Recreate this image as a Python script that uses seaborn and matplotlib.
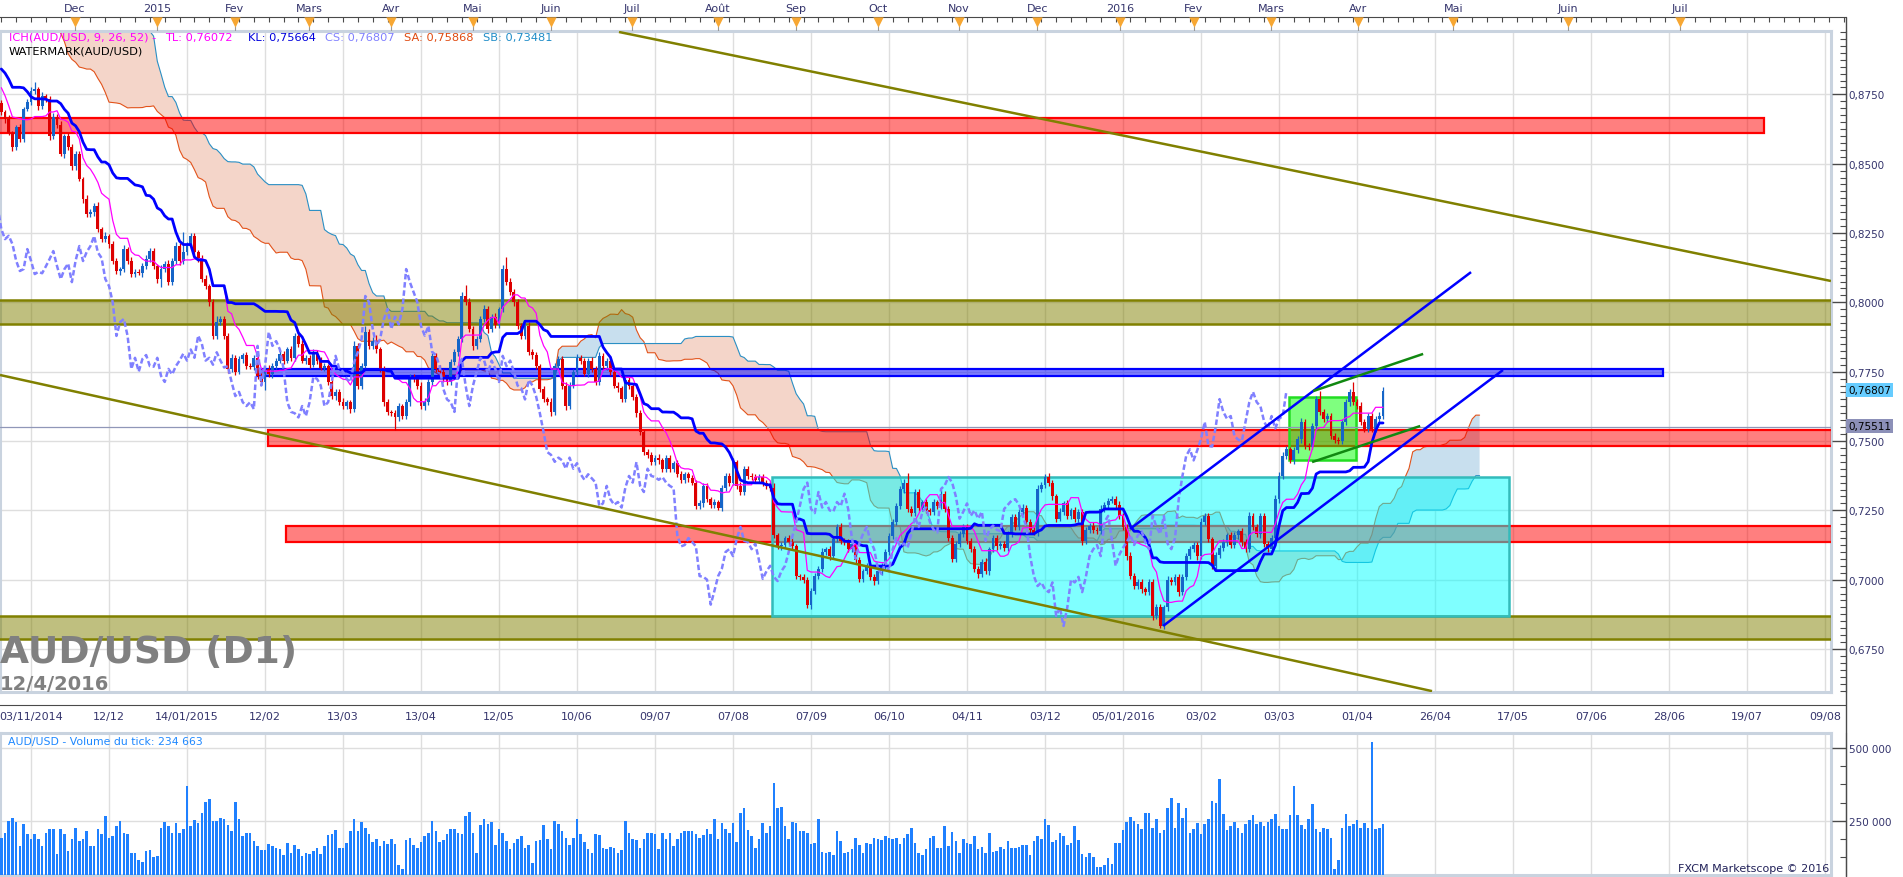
import numpy as np
import pandas as pd
import seaborn as sns
import matplotlib.pyplot as plt
from matplotlib.patches import Rectangle
from matplotlib.lines import Line2D
from matplotlib.ticker import MultipleLocator, FuncFormatter

sns.set_style('white')
plt.rcParams['font.family'] = ['DejaVu Sans']

# ---------------- data ----------------
# daily closes before the first visible bar (only feed the Ichimoku cloud)
pre_close = [
    0.9380, 0.9395, 0.9410, 0.9375, 0.9360, 0.9385, 0.9400, 0.9420, 0.9390, 0.9370,
    0.9350, 0.9365, 0.9380, 0.9405, 0.9395, 0.9370, 0.9340, 0.9320, 0.9300, 0.9290,
    0.9275, 0.9300, 0.9310, 0.9290, 0.9320, 0.9335, 0.9310, 0.9300, 0.9280, 0.9300,
    0.9320, 0.9305, 0.9290, 0.9315, 0.9330, 0.9345, 0.9330, 0.9310, 0.9325, 0.9350,
    0.9380, 0.9400, 0.9390, 0.9360, 0.9200, 0.9110, 0.9020, 0.8960, 0.8940, 0.8970,
    0.8960, 0.8985, 0.8950, 0.8930, 0.8960, 0.8985, 0.8970, 0.8940, 0.8960, 0.8980,
    0.8990, 0.8960, 0.8920, 0.8900, 0.8870, 0.8890, 0.8910, 0.8880, 0.8860, 0.8870,
    0.8890, 0.8860, 0.8830, 0.8800, 0.8780, 0.8750, 0.8770, 0.8740, 0.8760, 0.8720,
]

# daily closes, 22/10/2014 -> 12/04/2016
close = [
    0.8686, 0.8660, 0.8611, 0.8560, 0.8632, 0.8589, 0.8697, 0.8722, 0.8762, 0.8769,
    0.8708, 0.8744, 0.8733, 0.8600, 0.8670, 0.8640, 0.8535, 0.8600, 0.8560, 0.8490,
    0.8535, 0.8445, 0.8373, 0.8318, 0.8326, 0.8347, 0.8264, 0.8228, 0.8240, 0.8210,
    0.8150, 0.8113, 0.8120, 0.8192, 0.8150, 0.8102, 0.8110, 0.8105, 0.8130, 0.8156,
    0.8185, 0.8131, 0.8084, 0.8120, 0.8140, 0.8073, 0.8150, 0.8203, 0.8149, 0.8182,
    0.8203, 0.8239, 0.8180, 0.8160, 0.8084, 0.8059, 0.8000, 0.7879, 0.7929, 0.7940,
    0.7879, 0.7760, 0.7800, 0.7750, 0.7796, 0.7810, 0.7770, 0.7768, 0.7800, 0.7735,
    0.7713, 0.7760, 0.7740, 0.7770, 0.7790, 0.7815, 0.7790, 0.7830, 0.7800, 0.7880,
    0.7850, 0.7790, 0.7800, 0.7775, 0.7820, 0.7790, 0.7765, 0.7770, 0.7713, 0.7662,
    0.7677, 0.7640, 0.7626, 0.7640, 0.7615, 0.7843, 0.7700, 0.7770, 0.7893, 0.7843,
    0.7860, 0.7830, 0.7760, 0.7640, 0.7605, 0.7600, 0.7585, 0.7626, 0.7590, 0.7640,
    0.7731, 0.7724, 0.7700, 0.7626, 0.7640, 0.7713, 0.7807, 0.7760, 0.7750, 0.7724,
    0.7713, 0.7784, 0.7821, 0.7868, 0.8023, 0.8001, 0.7904, 0.7843, 0.7868, 0.7940,
    0.7976, 0.7904, 0.7948, 0.7920, 0.7976, 0.8120, 0.8073, 0.8037, 0.8001, 0.7915,
    0.7880, 0.7915, 0.7821, 0.7810, 0.7770, 0.7688, 0.7650, 0.7640, 0.7605, 0.7770,
    0.7796, 0.7700, 0.7626, 0.7700, 0.7750, 0.7800, 0.7790, 0.7743, 0.7790, 0.7760,
    0.7713, 0.7807, 0.7770, 0.7790, 0.7750, 0.7700, 0.7690, 0.7650, 0.7720, 0.7700,
    0.7660, 0.7600, 0.7532, 0.7460, 0.7450, 0.7425, 0.7440, 0.7430, 0.7400, 0.7440,
    0.7400, 0.7420, 0.7380, 0.7360, 0.7380, 0.7365, 0.7350, 0.7266, 0.7275, 0.7338,
    0.7290, 0.7270, 0.7280, 0.7260, 0.7331, 0.7374, 0.7350, 0.7424, 0.7338, 0.7316,
    0.7400, 0.7374, 0.7370, 0.7360, 0.7370, 0.7350, 0.7338, 0.7330, 0.7160, 0.7120,
    0.7125, 0.7150, 0.7136, 0.7120, 0.7013, 0.7010, 0.7000, 0.6910, 0.6960, 0.7013,
    0.7040, 0.7100, 0.7110, 0.7085, 0.7147, 0.7190, 0.7140, 0.7136, 0.7110, 0.7130,
    0.7070, 0.7003, 0.7030, 0.7050, 0.7010, 0.6995, 0.7030, 0.7050, 0.7100, 0.7157,
    0.7208, 0.7266, 0.7327, 0.7350, 0.7255, 0.7240, 0.7316, 0.7260, 0.7280, 0.7250,
    0.7245, 0.7280, 0.7265, 0.7310, 0.7255, 0.7150, 0.7075, 0.7130, 0.7165, 0.7190,
    0.7140, 0.7110, 0.7040, 0.7020, 0.7065, 0.7030, 0.7110, 0.7150, 0.7120, 0.7130,
    0.7115, 0.7165, 0.7225, 0.7190, 0.7245, 0.7260, 0.7208, 0.7180, 0.7170, 0.7327,
    0.7340, 0.7370, 0.7350, 0.7300, 0.7220, 0.7245, 0.7275, 0.7230, 0.7250, 0.7220,
    0.7245, 0.7140, 0.7180, 0.7195, 0.7180, 0.7175, 0.7255, 0.7270, 0.7285, 0.7290,
    0.7270, 0.7230, 0.7190, 0.7085, 0.7013, 0.6977, 0.6990, 0.6965, 0.6955, 0.6990,
    0.6869, 0.6900, 0.6833, 0.6900, 0.7000, 0.6990, 0.7010, 0.6955, 0.7010, 0.7085,
    0.7110, 0.7125, 0.7085, 0.7208, 0.7230, 0.7145, 0.7050, 0.7090, 0.7115, 0.7135,
    0.7160, 0.7125, 0.7160, 0.7175, 0.7135, 0.7110, 0.7230, 0.7190, 0.7165, 0.7230,
    0.7130, 0.7110, 0.7150, 0.7290, 0.7374, 0.7446, 0.7470, 0.7430, 0.7467, 0.7507,
    0.7569, 0.7482, 0.7480, 0.7555, 0.7651, 0.7605, 0.7580, 0.7590, 0.7518, 0.7505,
    0.7500, 0.7569, 0.7640, 0.7677, 0.7640, 0.7625, 0.7570, 0.7544, 0.7590, 0.7545,
    0.7580, 0.7590, 0.7681,
]

# wick lengths in pips (pre-history first, then visible bars)
wick_hi = [
    12, 15, 10, 18, 9, 14, 11, 16, 13, 10, 15, 12, 9, 17, 11, 14, 10, 13, 16, 12,
    11, 14, 9, 15, 12, 10, 16, 13, 11, 14, 12, 9, 15, 11, 13, 10, 14, 12, 16, 11,
    30, 14, 12, 20, 15, 13, 17, 11, 14, 16, 12, 15, 10, 13, 17, 12, 14, 11, 15, 13,
    16, 12, 14, 18, 11, 15, 13, 10, 16, 12, 14, 17, 11, 13, 15, 12, 16, 10, 14, 12,
    10, 8, 14, 6, 9, 12, 7, 11, 15, 26, 9, 13, 8, 10, 12, 9, 14, 8, 11, 10,
    9, 12, 8, 14, 10, 11, 16, 9, 12, 8, 13, 10, 9, 15, 8, 12, 10, 9, 11, 14,
    10, 12, 8, 13, 9, 11, 10, 14, 12, 70, 16, 12, 10, 9, 11, 13, 8, 12, 22, 10,
    11, 9, 14, 10, 12, 8, 11, 13, 9, 10, 12, 9, 14, 11, 8, 12, 10, 9, 13, 11,
    10, 14, 9, 11, 12, 8, 13, 10, 9, 12, 11, 10, 14, 9, 8, 18, 12, 10, 20, 11,
    14, 22, 10, 9, 12, 8, 11, 10, 9, 13, 12, 10, 8, 11, 14, 9, 12, 10, 13, 9,
    10, 12, 9, 11, 14, 40, 16, 10, 12, 9, 13, 11, 10, 12, 9, 15, 43, 14, 10, 12,
    9, 11, 13, 10, 12, 8, 11, 9, 14, 10, 12, 9, 11, 13, 10, 12, 9, 11, 10, 12,
    9, 13, 10, 11, 12, 9, 14, 10, 11, 12, 9, 10, 13, 8, 11, 10, 9, 12, 10, 11,
    10, 9, 12, 11, 8, 10, 13, 9, 11, 12, 10, 9, 11, 8, 12, 10, 11, 13, 9, 14,
    11, 10, 9, 12, 10, 11, 9, 13, 20, 10, 12, 9, 11, 14, 10, 9, 12, 10, 11, 12,
    10, 13, 9, 11, 12, 10, 14, 12, 9, 11, 10, 12, 9, 11, 10, 12, 9, 10, 12, 11,
    10, 12, 11, 13, 35, 12, 10, 11, 9, 12, 10, 11, 9, 13, 10, 12, 11, 9, 10, 12,
    11, 9, 12, 10, 11, 13, 9, 10, 12, 11, 10, 9, 12, 10, 11, 12, 9, 10, 11, 14,
    12, 10, 14, 11, 9, 12, 10, 11, 9, 12, 10, 11, 9, 10, 12, 11, 13, 10, 9, 11,
    10, 12, 11, 9, 13, 10, 12, 11, 10, 12, 14, 11, 12, 10, 13, 11, 9, 12, 10, 11,
    12, 10, 11, 13, 9, 12, 10, 11, 9, 12, 10, 11, 12, 9, 11, 10, 13, 11, 10, 12,
    11, 10, 12, 14, 16, 13, 12, 10, 11, 12, 14, 10, 12, 11, 13, 28, 12, 11, 10, 12,
    11, 12, 13, 10, 35, 12, 14, 11, 12, 10, 11, 13, 14,
]
wick_lo = [
    13, 10, 16, 12, 14, 11, 9, 15, 12, 13, 10, 14, 16, 11, 12, 15, 13, 10, 14, 12,
    15, 11, 13, 12, 10, 16, 14, 12, 11, 13, 15, 10, 12, 14, 11, 13, 16, 12, 10, 14,
    12, 18, 20, 16, 14, 12, 15, 13, 11, 14, 12, 16, 13, 11, 15, 12, 14, 13, 16, 12,
    14, 17, 13, 15, 12, 14, 11, 16, 13, 12, 15, 11, 14, 12, 13, 16, 12, 14, 11, 13,
    9, 12, 8, 15, 10, 9, 11, 8, 12, 10, 14, 9, 11, 13, 10, 12, 9, 14, 10, 12,
    11, 9, 13, 10, 12, 14, 10, 11, 9, 13, 12, 10, 14, 9, 11, 10, 12, 8, 13, 10,
    12, 10, 14, 30, 9, 12, 10, 11, 13, 9, 12, 10, 11, 14, 12, 10, 13, 11, 10, 12,
    11, 13, 10, 12, 9, 14, 11, 10, 12, 13, 11, 30, 10, 12, 11, 9, 13, 10, 12, 11,
    12, 10, 11, 13, 9, 12, 10, 14, 11, 12, 13, 10, 12, 11, 14, 10, 12, 11, 9, 13,
    10, 12, 11, 14, 12, 10, 45, 12, 11, 10, 13, 11, 12, 10, 14, 11, 10, 12, 11, 13,
    12, 11, 10, 13, 12, 10, 11, 14, 12, 10, 11, 13, 10, 12, 11, 10, 12, 11, 13, 10,
    11, 12, 10, 13, 11, 12, 10, 11, 14, 12, 10, 11, 13, 12, 10, 11, 12, 10, 13, 11,
    12, 10, 11, 13, 12, 10, 14, 11, 10, 12, 11, 13, 12, 10, 11, 12, 10, 13, 11, 10,
    12, 11, 10, 13, 11, 12, 10, 11, 12, 13, 10, 11, 12, 10, 13, 11, 12, 10, 11, 12,
    10, 11, 12, 10, 13, 11, 10, 12, 11, 10, 13, 12, 10, 11, 12, 10, 11, 13, 16, 12,
    11, 12, 10, 13, 11, 12, 10, 11, 12, 10, 13, 11, 12, 10, 11, 13, 10, 12, 11, 10,
    12, 11, 10, 13, 11, 12, 10, 11, 12, 10, 13, 11, 12, 10, 11, 12, 13, 10, 11, 12,
    10, 11, 12, 13, 10, 11, 12, 10, 13, 11, 12, 10, 11, 12, 10, 13, 11, 12, 10, 11,
    12, 10, 11, 13, 12, 10, 11, 12, 10, 13, 11, 14, 10, 12, 11, 10, 12, 11, 13, 10,
    11, 12, 10, 13, 11, 12, 10, 14, 12, 11, 13, 12, 6, 10, 12, 11, 10, 13, 11, 12,
    10, 11, 13, 12, 10, 11, 12, 10, 13, 11, 12, 10, 11, 13, 12, 10, 11, 12, 10, 13,
    11, 12, 10, 11, 13, 12, 10, 11, 12, 10, 13, 11, 12, 10, 11, 12, 10, 13, 11, 12,
    10, 11, 12, 13, 10, 11, 12, 10, 13, 11, 12, 10, 11,
]

# tick volume, thousands
volume_k = [
    193, 210, 250, 261, 247, 165, 239, 205, 188, 205, 188, 165, 210, 222, 224, 136, 222, 205, 148, 188,
    227, 182, 188, 216, 165, 165, 224, 205, 267, 193, 199, 233, 250, 210, 205, 142, 142, 117, 108, 148,
    150, 128, 131, 227, 247, 233, 210, 242, 210, 224, 369, 233, 252, 242, 278, 315, 324, 250, 250, 261,
    256, 235, 214, 315, 256, 197, 210, 210, 182, 165, 151, 151, 170, 165, 159, 153, 133, 176, 142, 167,
    153, 131, 142, 136, 148, 159, 136, 165, 201, 205, 219, 159, 159, 176, 216, 258, 215, 247, 227, 205,
    178, 188, 165, 182, 170, 188, 170, 99, 87, 185, 193, 167, 159, 178, 199, 208, 250, 216, 178, 185,
    205, 222, 222, 210, 205, 267, 281, 210, 142, 235, 256, 239, 247, 168, 224, 210, 182, 153, 174, 188,
    199, 156, 167, 106, 182, 185, 235, 188, 153, 250, 239, 216, 193, 167, 193, 258, 205, 178, 153, 142,
    205, 201, 159, 153, 162, 158, 142, 151, 250, 210, 188, 185, 159, 188, 210, 210, 205, 153, 210, 188,
    210, 165, 188, 210, 216, 214, 214, 205,
    193, 201, 222, 205, 258, 188, 244, 222, 210, 244, 178, 278, 295, 219, 197, 156, 188, 244, 210, 233,
    381, 295, 299, 231, 188, 248, 242, 214, 216, 210, 170, 174, 256, 145, 139, 145, 133, 216, 182, 142,
    144, 153, 190, 168, 140, 173, 170, 190, 188, 185, 199, 191, 188, 193, 170, 190, 205, 227, 174, 140,
    133, 153, 190, 199, 156, 159, 231, 165, 212, 182, 142, 188, 176, 170, 197, 153, 162, 142, 210, 144,
    148, 162, 153, 182, 159, 156, 162, 169, 169, 133, 182, 199, 188, 258, 235, 178, 185, 210, 199, 167,
    174, 233, 185, 136, 125, 139, 128, 91, 94, 99, 122, 102, 176, 176, 219, 247, 265, 250, 239, 224,
    278, 278, 227, 256, 208, 219, 295, 330, 227, 313, 261, 295, 210, 222, 242, 205, 239, 258, 318, 313,
    394, 273, 219, 233, 247, 227, 210, 239, 253, 269, 239, 247, 231, 247, 256, 273, 233, 224, 222, 269,
    369, 269, 235, 224, 258, 307, 222, 212, 227, 224, 193, 87, 117, 227, 273, 231, 239, 252, 227, 242,
    227, 519, 224, 227, 239,
]

month_labels = ['Dec', '2015', 'Fev', 'Mars', 'Avr', 'Mai', 'Juin', 'Juil', 'Août', 'Sep',
                'Oct', 'Nov', 'Dec', '2016', 'Fev', 'Mars', 'Avr', 'Mai', 'Juin', 'Juil']
month_bars = [19.8, 41.9, 62.9, 82.8, 104.9, 127.0, 148.0, 169.8, 193.0, 214.0,
              236.1, 257.9, 278.9, 301.2, 321.0, 341.9, 365.3, 390.9, 421.8, 452.0]
date_labels = ['03/11/2014', '12/12', '14/01/2015', '12/02', '13/03', '13/04', '12/05', '10/06',
               '09/07', '07/08', '07/09', '06/10', '04/11', '03/12', '05/01/2016', '03/02',
               '03/03', '01/04', '26/04', '17/05', '07/06', '28/06', '19/07', '09/08']

# drawn zones: (first bar, last bar, low price, high price)
red_zones = [(-1, 474.6, 0.8611, 0.8665), (71.8, 500, 0.7482, 0.7540), (76.7, 500, 0.7136, 0.7193)]
olive_zones = [(-1, 500, 0.7922, 0.8008), (-1, 500, 0.6786, 0.6869)]
blue_zones = [(68.8, 447.4, 0.7736, 0.7760)]
cyan_boxes = [(207.5, 405.9, 0.6869, 0.7370)]
green_boxes = [(346.7, 364.7, 0.7431, 0.7659)]
# drawn trend lines: ((bar, price), (bar, price))
olive_lines = [((166.3, 0.8975), (492.6, 0.8077)), ((-0.35, 0.7738), (385.2, 0.6598))]
blue_lines = [((303.9, 0.7183), (395.7, 0.8109)), ((312.8, 0.6833), (404.3, 0.7756))]
green_lines = [((353.2, 0.7680), (382.8, 0.7814)), ((352.9, 0.7424), (382.0, 0.7554))]
last_price = 0.75511

# ---------------- candles + Ichimoku ----------------
n_pre = len(pre_close)
all_close = np.array(pre_close + close)
all_open = np.r_[all_close[0], all_close[:-1]]
df = pd.DataFrame({
    'bar': np.arange(len(all_close)) - n_pre,
    'open': all_open,
    'close': all_close,
    'high': np.maximum(all_open, all_close) + np.array(wick_hi) / 10000,
    'low': np.minimum(all_open, all_close) - np.array(wick_lo) / 10000,
})
df['tenkan'] = (df.high.rolling(9).max() + df.low.rolling(9).min()) / 2
df['kijun'] = (df.high.rolling(26).max() + df.low.rolling(26).min()) / 2
df['sa'] = (df.tenkan + df.kijun) / 2
df['sb'] = (df.high.rolling(52).max() + df.low.rolling(52).min()) / 2
vis = df[df.bar >= 0].reset_index(drop=True)

# ---------------- layout in pixels ----------------
W, H = 1903, 878
BAR_PX = 78 / 21


def frac_box(x0, y0, x1, y1):
    return [x0 / W, 1 - y1 / H, (x1 - x0) / W, (y1 - y0) / H]


def bar_at(px):
    return (px - 1.3) / BAR_PX


def price_at(py):
    return 0.75 + (442 - py) / 2773


TXT = '#34346C'
AXC = '#4A4A4A'
FRAME = '#C9D3DF'
date_bars = [8 + 21 * k for k in range(len(date_labels))]

fig = plt.figure(figsize=(W / 100, H / 100), dpi=100)

ax = fig.add_axes(frac_box(0, 32, 1831, 693))
ax.set_xlim(bar_at(0), bar_at(1831))
ax.set_ylim(price_at(693), price_at(32))
ax.set_xticks(date_bars)
ax.set_yticks(np.arange(0.675, 0.90, 0.025))
ax.grid(True, color='#DEDEDE', lw=1)
ax.tick_params(length=0, labelbottom=False, labelleft=False)
for s in ax.spines.values():
    s.set_color(FRAME)
    s.set_linewidth(2.2)

# cloud
cloud = df[df.bar + 26 >= -1]
cx = cloud.bar + 26
ax.fill_between(cx, cloud.sa, cloud.sb, where=cloud.sa <= cloud.sb, interpolate=True,
                facecolor='#F4D5C9', lw=0, zorder=1)
ax.fill_between(cx, cloud.sa, cloud.sb, where=cloud.sa > cloud.sb, interpolate=True,
                facecolor='#C8DFEE', lw=0, zorder=1)
sns.lineplot(x=cx, y=cloud.sa, ax=ax, color='#E2531B', lw=0.8, zorder=2)
sns.lineplot(x=cx, y=cloud.sb, ax=ax, color='#2A8FC4', lw=0.8, zorder=2)

# zones and boxes
for x0, x1, lo, hi in red_zones:
    ax.add_patch(Rectangle((x0, lo), x1 - x0, hi - lo, fc=(1, 0, 0, 0.5), ec='#FF0000', lw=1.6, zorder=3))
for x0, x1, lo, hi in olive_zones:
    ax.add_patch(Rectangle((x0, lo), x1 - x0, hi - lo, fc=(0.5, 0.5, 0, 0.5), ec='#808000', lw=1.8, zorder=3))
for x0, x1, lo, hi in blue_zones:
    ax.add_patch(Rectangle((x0, lo), x1 - x0, hi - lo, fc=(0, 0, 1, 0.5), ec='#0000FF', lw=1.6, zorder=3))
for x0, x1, lo, hi in cyan_boxes:
    ax.add_patch(Rectangle((x0, lo), x1 - x0, hi - lo, fc=(0, 1, 1, 0.5), ec='#33BBBB', lw=1.8, zorder=3))
for x0, x1, lo, hi in green_boxes:
    ax.add_patch(Rectangle((x0, lo), x1 - x0, hi - lo, fc=(0, 1, 0, 0.5), ec='#22DD22', lw=1.8, zorder=3))

ax.axhline(last_price, color='#9097B8', lw=0.9, zorder=3)

# candles
up = vis.close >= vis.open
cols = np.where(up, '#1565C8', '#DD0000')
ax.vlines(vis.bar, vis.low, vis.high, colors=cols, lw=0.9, zorder=4)
ax.bar(vis.bar, np.maximum((vis.close - vis.open).abs(), 0.0003),
       bottom=np.minimum(vis.open, vis.close), width=0.78, color=cols, lw=0, zorder=4)

# Ichimoku lines
line_part = vis[vis.tenkan.notna()]
sns.lineplot(x=line_part.bar, y=line_part.tenkan, ax=ax, color='#FF00FF', lw=0.9, zorder=5)
sns.lineplot(x=line_part.bar, y=line_part.kijun, ax=ax, color='#0000FF', lw=2.0, zorder=5)
chikou = vis[vis.bar - 26 >= -1]
ax.plot(chikou.bar - 26, chikou.close, color='#8080FF', lw=1.8, dashes=(2.2, 1.1), zorder=5)

# trend lines
for group, col in [(olive_lines, '#808000'), (blue_lines, '#0000FF'), (green_lines, '#118811')]:
    for (xa, ya), (xb, yb) in group:
        ax.plot([xa, xb], [ya, yb], color=col, lw=1.8, zorder=6, solid_capstyle='butt')
ax.set_xlabel('')
ax.set_ylabel('')

# right price axis
axr = fig.add_axes(frac_box(1831, 32, 1846, 693))
axr.set_ylim(ax.get_ylim())
axr.patch.set_visible(False)
for s in ['left', 'top', 'bottom']:
    axr.spines[s].set_visible(False)
axr.spines['right'].set_color(AXC)
axr.set_xticks([])
axr.yaxis.tick_right()
axr.yaxis.set_major_locator(MultipleLocator(0.025))
axr.yaxis.set_minor_locator(MultipleLocator(0.0025))
axr.yaxis.set_major_formatter(FuncFormatter(lambda v, _: f'{v:.4f}'.replace('.', ',')))
axr.tick_params(axis='y', which='major', direction='in', length=10, width=1, color=AXC,
                labelsize=7.5, labelcolor=TXT, pad=2)
axr.tick_params(axis='y', which='minor', direction='in', length=4.3, width=0.8, color=AXC)

# top month bar
axt = fig.add_axes(frac_box(0, 18, 1845, 32))
axt.set_xlim(bar_at(0), bar_at(1845))
axt.set_ylim(0, 1)
axt.patch.set_visible(False)
for s in ['left', 'right', 'bottom']:
    axt.spines[s].set_visible(False)
axt.spines['top'].set_color(AXC)
axt.set_yticks([])
axt.xaxis.tick_top()
axt.set_xticks(month_bars)
axt.set_xticklabels(month_labels)
axt.xaxis.set_minor_locator(MultipleLocator(4))
axt.tick_params(axis='x', which='major', length=0, pad=3, labelsize=8, labelcolor=TXT)
axt.tick_params(axis='x', which='minor', direction='in', length=3.5, width=0.8, color=AXC)
axt.vlines(month_bars, 0, 0.5, color='#999999', lw=0.8)
axt.scatter(month_bars, [0.62] * len(month_bars), marker='v', s=55, color='#F7A733',
            lw=0, zorder=3, clip_on=False)

# bottom date bar
axb = fig.add_axes(frac_box(0, 693, 1845, 706))
axb.set_xlim(bar_at(0), bar_at(1845))
axb.patch.set_visible(False)
for s in ['left', 'right', 'top']:
    axb.spines[s].set_visible(False)
axb.spines['bottom'].set_color(AXC)
axb.set_yticks([])
axb.set_xticks(date_bars)
axb.set_xticklabels(date_labels)
axb.xaxis.set_minor_locator(MultipleLocator(21 / 8))
axb.tick_params(axis='x', which='major', direction='in', length=9, width=1, color=AXC,
                labelsize=8, labelcolor=TXT, pad=4)
axb.tick_params(axis='x', which='minor', direction='in', length=4.3, width=0.8, color=AXC)

# volume panel
axv = fig.add_axes(frac_box(0, 734, 1831, 876))
axv.set_xlim(ax.get_xlim())
axv.set_ylim(65, 551)
axv.set_xticks(date_bars)
axv.set_yticks([250, 500])
axv.grid(True, color='#DEDEDE', lw=1)
axv.tick_params(length=0, labelbottom=False, labelleft=False)
for s in axv.spines.values():
    s.set_color(FRAME)
    s.set_linewidth(2.2)
axv.bar(vis.bar, volume_k, width=0.72, bottom=0, color='#1F80FF', lw=0, zorder=3)

axvr = fig.add_axes(frac_box(1831, 734, 1846, 876))
axvr.set_ylim(axv.get_ylim())
axvr.patch.set_visible(False)
for s in ['left', 'top', 'bottom']:
    axvr.spines[s].set_visible(False)
axvr.spines['right'].set_color(AXC)
axvr.set_xticks([])
axvr.yaxis.tick_right()
axvr.set_yticks([250, 500])
axvr.set_yticklabels(['250 000', '500 000'])
axvr.yaxis.set_minor_locator(MultipleLocator(62.5))
axvr.tick_params(axis='y', which='major', direction='in', length=10, width=1, color=AXC,
                 labelsize=7.5, labelcolor=TXT, pad=2)
axvr.tick_params(axis='y', which='minor', direction='in', length=4.3, width=0.8, color=AXC)

fig.add_artist(Line2D([1845.5 / W] * 2, [1 - 18 / H, 0], color=AXC, lw=1))


# ---------------- texts ----------------
def ftext(x, y, s, **kw):
    fig.text(x / W, 1 - y / H, s, **kw)


legend_parts = [(9, 'ICH(AUD/USD, 9, 26, 52) - ', '#FF00FF'), (165, 'TL: 0,76072', '#FF00FF'),
                (248, 'KL: 0,75664', '#0000DD'), (325, 'CS: 0,76807', '#8080FF'),
                (404, 'SA: 0,75868', '#E04A10'), (483, 'SB: 0,73481', '#1E8CC8')]
for x, s, c in legend_parts:
    ftext(x, 38, s, color=c, fontsize=8.2, va='center')
ftext(9, 52, 'WATERMARK(AUD/USD)', color='black', fontsize=8.2, va='center')
ftext(0, 663, 'AUD/USD (D1)', color='#808080', fontsize=27, fontweight='bold', va='baseline')
ftext(0, 690, '12/4/2016', color='#808080', fontsize=14, fontweight='bold', va='baseline')
ftext(8, 742, 'AUD/USD - Volume du tick: 234 663', color='#1E88FF', fontsize=7.8, va='center')
ftext(1829, 869, 'FXCM Marketscope © 2016', color='#22225A', fontsize=8, va='center', ha='right')
ftext(1848, 391, '0,76807', color='black', fontsize=7.5, va='center',
      bbox=dict(boxstyle='square,pad=0.2', fc='#66CCFF', ec='none'))
ftext(1848, 427, '0,75511', color='black', fontsize=7.5, va='center',
      bbox=dict(boxstyle='square,pad=0.2', fc='#8C90B8', ec='none'))

fig.savefig('out.png', dpi=100, facecolor='white')
